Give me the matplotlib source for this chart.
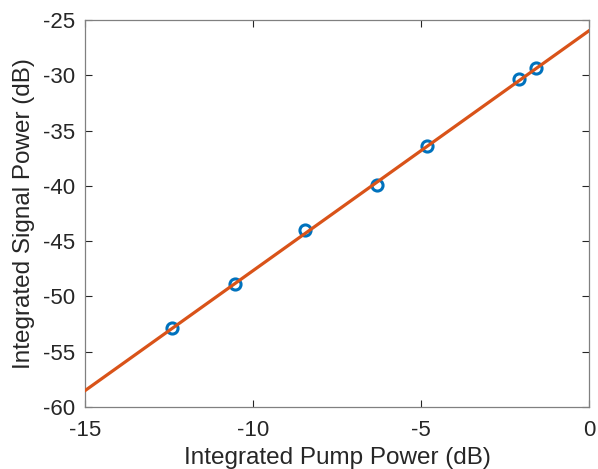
import matplotlib
matplotlib.use("Agg")
import matplotlib.pyplot as plt

# measured points (dB)
pump_db = [-12.40, -10.54, -8.45, -6.32, -4.83, -2.07, -1.58]
signal_db = [-52.88, -48.87, -43.99, -39.92, -36.36, -30.33, -29.37]

# linear fit line, end points
fit_x = [-15.0, 0.0]
fit_y = [-58.52, -25.97]

x_ticks = [-15, -10, -5, 0]
y_ticks = [-60, -55, -50, -45, -40, -35, -30, -25]

plt.rcParams["font.family"] = ["Liberation Sans", "DejaVu Sans"]
plt.rcParams["axes.unicode_minus"] = False
axis_gray = "#262626"

fig = plt.figure(figsize=(5.98, 4.69), dpi=100)
ax = fig.add_axes([85 / 598, 1 - 407 / 469, 504 / 598, 387 / 469])

ax.plot(pump_db, signal_db, "o", markersize=8, markerfacecolor="none",
        markeredgecolor="#0072BD", markeredgewidth=2.2, zorder=2)
ax.plot(fit_x, fit_y, "-", color="#D95319", linewidth=2.3, zorder=3)

ax.set_xlim(-15, 0)
ax.set_ylim(-60, -25)
ax.set_xticks(x_ticks)
ax.set_yticks(y_ticks)
ax.tick_params(direction="in", top=True, right=True, length=5, width=0.8,
               labelsize=16, colors=axis_gray, pad=7)
ax.tick_params(axis="x", pad=9)
for s in ax.spines.values():
    s.set_color("#808080")
    s.set_linewidth(0.9)

ax.set_xlabel("Integrated Pump Power (dB)", fontsize=17.5, color=axis_gray, labelpad=5)
ax.set_ylabel("Integrated Signal Power (dB)", fontsize=17.5, color=axis_gray, labelpad=6)

fig.savefig("out.png", dpi=100)
